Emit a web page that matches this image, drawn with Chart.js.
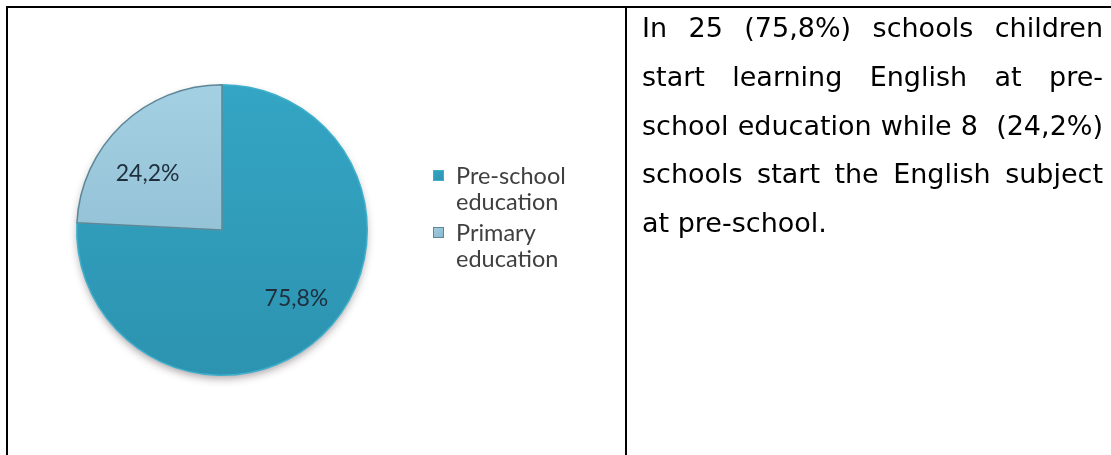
<!DOCTYPE html>
<html>
<head>
<meta charset="utf-8">
<script src="https://cdn.jsdelivr.net/npm/chart.js@4.4.0/dist/chart.umd.min.js"></script>
<style>
    html, body {
        margin: 0;
        padding: 0;
        background: #ffffff;
    }
    .page {
        position: relative;
        width: 1111px;
        height: 455px;
        overflow: hidden;
    }
    #pieChart {
        position: absolute;
        left: 0;
        top: 0;
    }
    .rule {
        position: absolute;
        background: #000000;
    }
    .legend {
        position: absolute;
        left: 433px;
        top: 162px;
        width: 135px;
        font-family: Lato, "Open Sans", sans-serif;
        font-size: 23.5px;
        line-height: 26px;
        color: #404040;
    }
    .legend-item {
        position: relative;
        padding-left: 23px;
        margin-bottom: 5px;
    }
    .legend-item .word {
        white-space: nowrap;
    }
    .legend-item .box {
        position: absolute;
        left: 0;
        top: 8px;
        width: 11px;
        height: 11px;
    }
    .note {
        position: absolute;
        left: 642px;
        top: 4px;
        width: 461px;
        font-family: "DejaVu Sans", Verdana, sans-serif;
        font-size: 27px;
        line-height: 48.75px;
        color: #000000;
    }
    .note div {
        white-space: nowrap;
        text-align: justify;
        text-align-last: justify;
    }
    .note div.last {
        text-align-last: left;
    }
</style>
</head>
<body>
<div class="page">
    <canvas id="pieChart" width="626" height="455"></canvas>
    <div class="rule" style="left:6px; top:6px; width:1105px; height:2px;"></div>
    <div class="rule" style="left:6px; top:6px; width:2px; height:449px;"></div>
    <div class="rule" style="left:625px; top:6px; width:2px; height:449px;"></div>
    <div class="legend" id="legend"></div>
    <div class="note" id="note"></div>
</div>

<script>
// chart data
const categories = ["Pre-school education", "Primary education"];
const shares = [75.8, 24.2];
const shareLabels = ["75,8%", "24,2%"];

// text beside the chart, one entry per printed line
const noteLines = [
    "In 25 (75,8%) schools children",
    "start learning English at pre-",
    "school education while 8\u00a0 (24,2%)",
    "schools start the English subject",
    "at pre-school."
];

const sliceTop = ["#34a5c4", "#a4d0e3"];
const sliceBottom = ["#2c93b0", "#86b5ca"];
const sliceBorder = ["#3fb0cc", "#5d8797"];

function sliceFill(context) {
    const chart = context.chart;
    const area = chart.chartArea;
    if (!area) {
        return sliceTop[context.dataIndex];
    }
    const g = chart.ctx.createLinearGradient(0, area.top, 0, area.bottom);
    g.addColorStop(0, sliceTop[context.dataIndex]);
    g.addColorStop(1, sliceBottom[context.dataIndex]);
    return g;
}

// soft shadow under the pie
const pieShadow = {
    id: "pieShadow",
    beforeDatasetsDraw(chart) {
        const arc = chart.getDatasetMeta(0).data[0];
        if (!arc) return;
        const ctx = chart.ctx;
        ctx.save();
        ctx.shadowColor = "rgba(60, 40, 50, 0.45)";
        ctx.shadowBlur = 9;
        ctx.shadowOffsetY = 4;
        ctx.fillStyle = "#2c93b0";
        ctx.beginPath();
        ctx.arc(arc.x, arc.y, arc.outerRadius - 1, 0, Math.PI * 2);
        ctx.fill();
        ctx.restore();
    }
};

// percentage text inside each slice, a little before the bisector like Excel does
const sliceText = {
    id: "sliceText",
    afterDatasetsDraw(chart) {
        const ctx = chart.ctx;
        ctx.save();
        ctx.font = "23px Lato, 'Open Sans', sans-serif";
        ctx.fillStyle = "#1e2e3c";
        ctx.textAlign = "center";
        ctx.textBaseline = "middle";
        chart.getDatasetMeta(0).data.forEach((arc, i) => {
            const p = arc.getProps(["x", "y", "startAngle", "endAngle", "outerRadius"], true);
            const mid = (p.startAngle + p.endAngle) / 2 - 0.11;
            const r = p.outerRadius * 0.67;
            ctx.fillText(shareLabels[i], p.x + Math.cos(mid) * r, p.y + Math.sin(mid) * r + 6);
        });
        ctx.restore();
    }
};

new Chart(document.getElementById("pieChart"), {
    type: "pie",
    data: {
        labels: categories,
        datasets: [{
            data: shares,
            backgroundColor: sliceFill,
            borderColor: sliceBorder,
            borderWidth: 1.5
        }]
    },
    options: {
        responsive: false,
        animation: false,
        layout: {
            padding: { left: 76, right: 258, top: 84, bottom: 79 }
        },
        plugins: {
            legend: { display: false },
            tooltip: { enabled: false }
        }
    },
    plugins: [pieShadow, sliceText]
});

// legend built from the same arrays
let legend = document.getElementById("legend");
categories.forEach((name, i) => {
    let item = document.createElement("div");
    item.className = "legend-item";
    let box = document.createElement("span");
    box.className = "box";
    box.style.background = `linear-gradient(135deg, ${sliceTop[i]}, ${sliceBottom[i]})`;
    box.style.boxShadow = "inset 0 0 0 1px " + sliceBorder[i];
    item.appendChild(box);
    name.split(" ").forEach((word, k) => {
        if (k > 0) item.appendChild(document.createTextNode(" "));
        let w = document.createElement("span");
        w.className = "word";
        w.textContent = word;
        item.appendChild(w);
    });
    legend.appendChild(item);
});

let note = document.getElementById("note");
noteLines.forEach((line, i) => {
    let row = document.createElement("div");
    row.textContent = line;
    if (i === noteLines.length - 1) row.className = "last";
    note.appendChild(row);
});
</script>
</body>
</html>
